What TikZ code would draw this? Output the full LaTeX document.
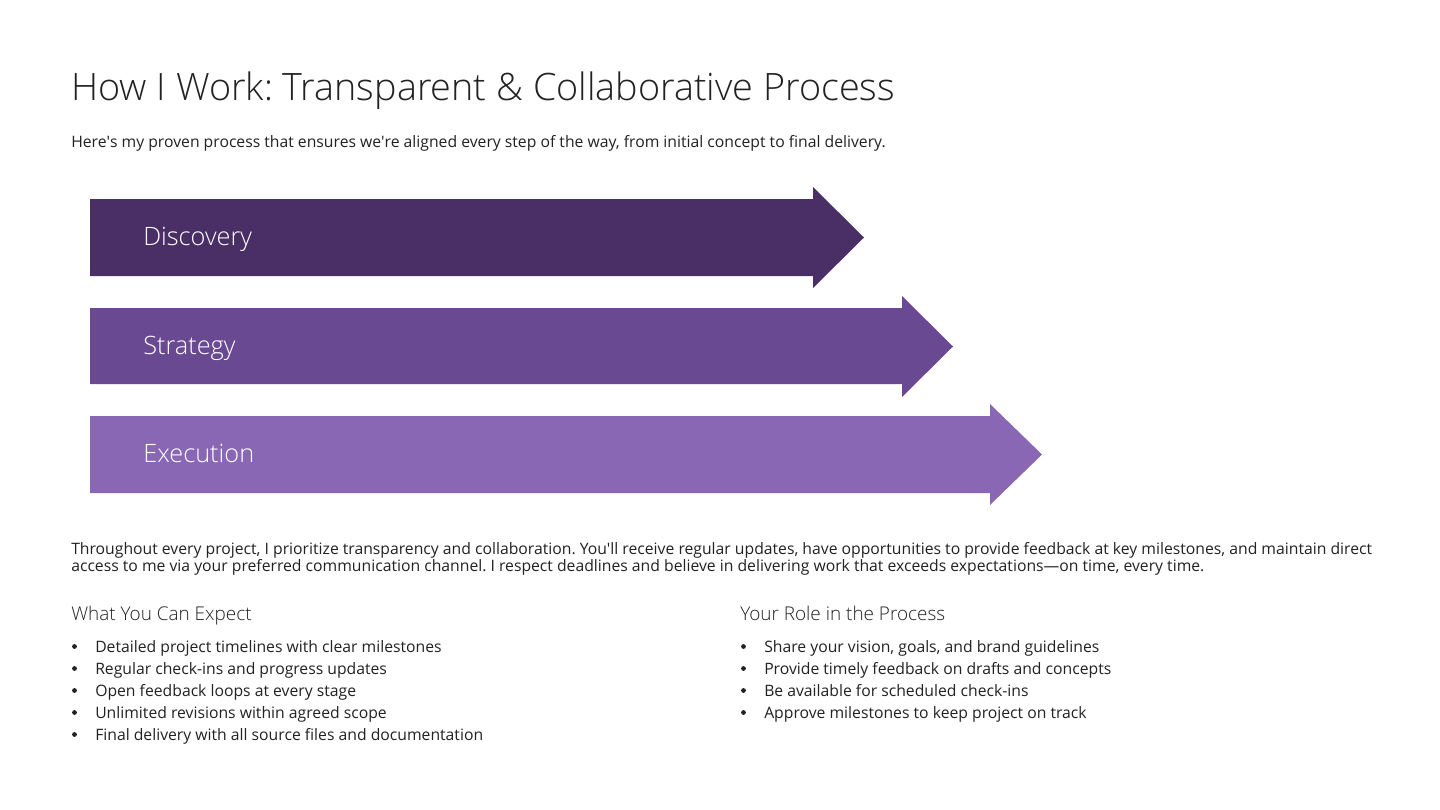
\documentclass[tikz,border=0pt]{standalone}
\usepackage{fontspec}
\setmainfont{Open Sans}
\IfFontExistsTF{Open Sans Light}{\newfontfamily\lightfont{Open Sans Light}}{%
  \IfFontExistsTF{Fira Sans Light}{\newfontfamily\lightfont{Fira Sans Light}}{\newfontfamily\lightfont{Open Sans}}}
\frenchspacing
\begin{document}
\begin{tikzpicture}[x=0.75pt,y=-0.75pt]
\definecolor{ink}{HTML}{222222}
\definecolor{pA}{HTML}{4A2F66}
\definecolor{pB}{HTML}{6A4993}
\definecolor{pC}{HTML}{8967B5}
\tikzset{
  txt/.style={anchor=base west, inner sep=0pt, text=ink},
  body/.style={txt, font=\fontsize{11.8}{14}\selectfont},
  head/.style={txt, font=\lightfont\fontsize{14.2}{17}\selectfont},
  lab/.style={anchor=base west, inner sep=0pt, text=white, font=\lightfont\fontsize{19}{22}\selectfont},
  bul/.style={circle, fill=ink, inner sep=0pt, minimum size=3.6pt},
}
\useasboundingbox (0,0) rectangle (1440,810);
\fill[white] (0,0) rectangle (1440,810);
\node[txt, font=\lightfont\fontsize{28.3}{34}\selectfont] (title) at (71,100) {How I Work: Transparent \& Collaborative Process};
\node[body] (sub) at (71,147.5) {Here\textquotesingle s my proven process that ensures we\textquotesingle re aligned every step of the way, from initial concept to final delivery.};
% arrows
\fill[pA] (90,199) -- (813,199) -- (813,187) -- (864,237.5) -- (813,288) -- (813,276) -- (90,276) -- cycle;
\fill[pB] (90,308) -- (902,308) -- (902,296) -- (953,346.5) -- (902,397) -- (902,384) -- (90,384) -- cycle;
\fill[pC] (90,416) -- (990,416) -- (990,404) -- (1042,454.5) -- (990,505) -- (990,493) -- (90,493) -- cycle;
\node[lab] (disc) at (143,245) {Discovery};
\node[lab] (strat) at (143,354) {Strategy};
\node[lab] (exec) at (143,462) {Execution};
% paragraph
\node[body] (p1) at (71,554) {Throughout every project, I prioritize transparency and collaboration. You\textquotesingle ll receive regular updates, have opportunities to provide feedback at key milestones, and maintain direct};
\node[body] (p2) at (71,571) {access to me via your preferred communication channel. I respect deadlines and believe in delivering work that exceeds expectations—on time, every time.};
% left column
\node[head] (h1) at (71,620) {What You Can Expect};
\foreach \t [count=\i] in {Detailed project timelines with clear milestones, Regular check-ins and progress updates, Open feedback loops at every stage, Unlimited revisions within agreed scope, Final delivery with all source files and documentation}{
  \node[bul] (lb\i) at (74.5,624.5+\i*22) {};
  \node[body] (l\i) at (95,630+\i*22) {\t};
}
% right column
\node[head] (h2) at (740,620) {Your Role in the Process};
\foreach \t [count=\i] in {{Share your vision, goals, and brand guidelines}, Provide timely feedback on drafts and concepts, Be available for scheduled check-ins, Approve milestones to keep project on track}{
  \node[bul] (rb\i) at (743.5,624.5+\i*22) {};
  \node[body] (r\i) at (764,630+\i*22) {\t};
}
\end{tikzpicture}
\end{document}
